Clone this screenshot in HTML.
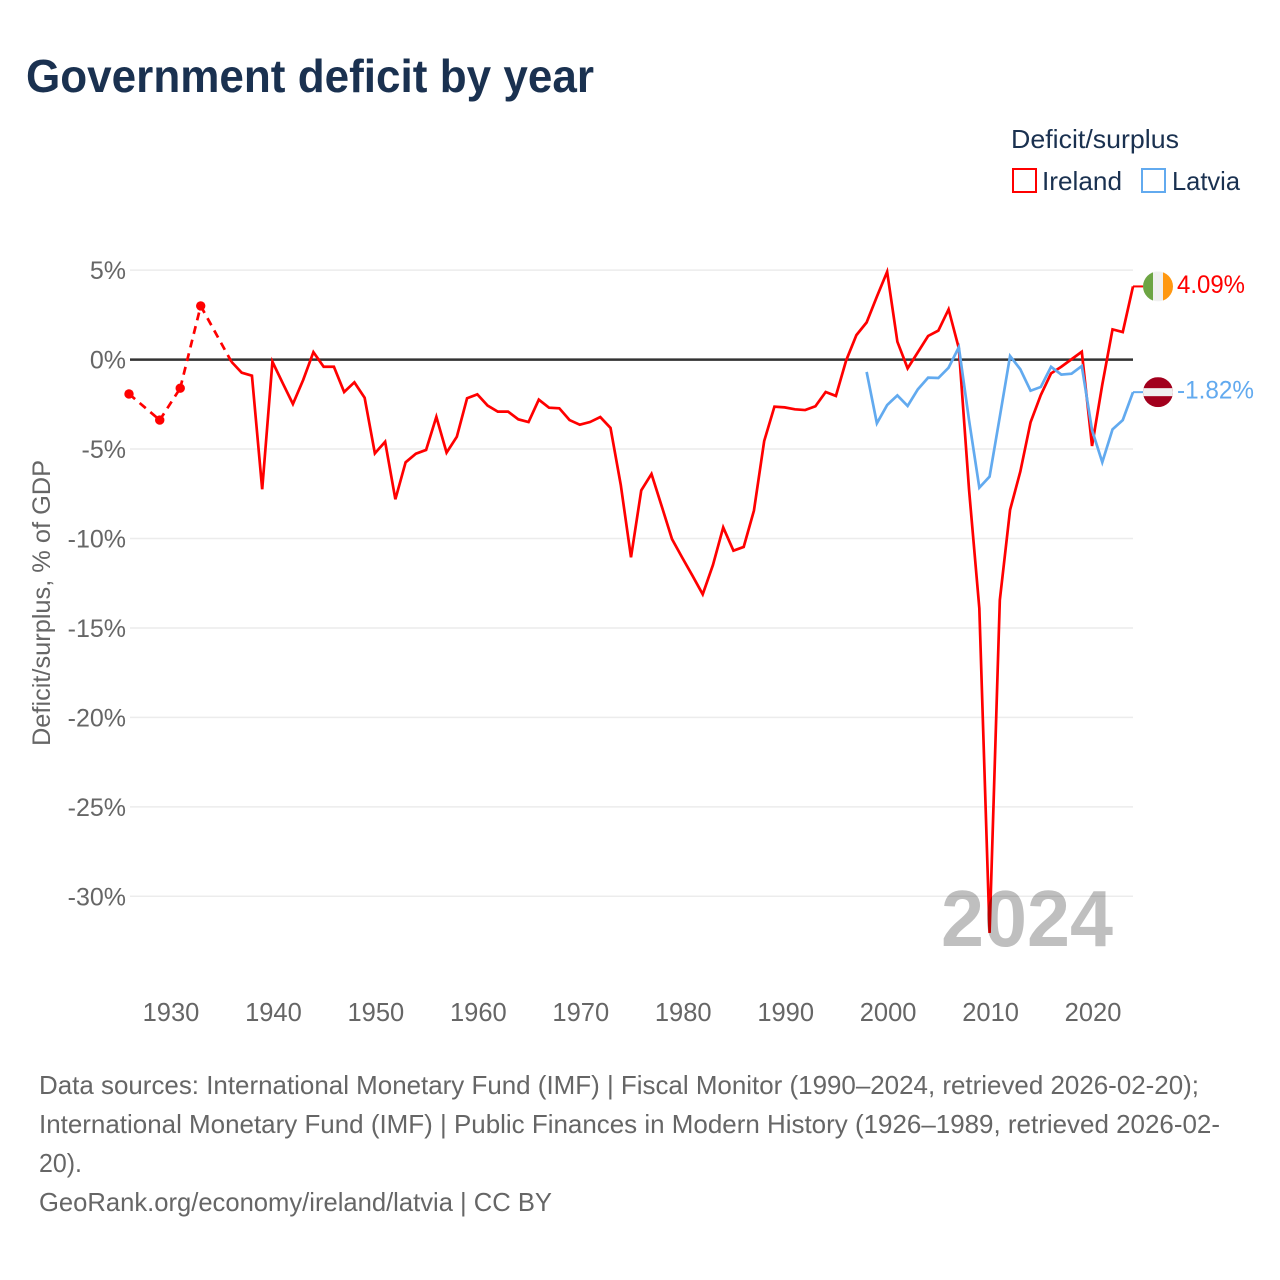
<!DOCTYPE html>
<html lang="en">
<head>
<meta charset="utf-8">
<title>Government deficit by year</title>
<style>
  html, body { margin: 0; padding: 0; background: #fff; }
  svg { display: block; font-family: "Liberation Sans", sans-serif; }
</style>
</head>
<body>
<svg id="chart" xmlns="http://www.w3.org/2000/svg" width="1280" height="1280" viewBox="0 0 1280 1280">
  <rect x="0" y="0" width="1280" height="1280" fill="#fff"/>
  <text x="26" y="92" font-size="46" font-weight="700" fill="#1a3150" textLength="568" lengthAdjust="spacingAndGlyphs">Government deficit by year</text>

  <g>
    <text x="1011" y="148" font-size="26" fill="#1a3150" textLength="168" lengthAdjust="spacingAndGlyphs">Deficit/surplus</text>
    <g>
      <rect x="1013" y="169" width="23" height="23" fill="#fff" stroke="#ff0000" stroke-width="2"/>
      <text x="1042" y="190" font-size="26" fill="#1a3150" textLength="80" lengthAdjust="spacingAndGlyphs">Ireland</text>
    </g>
    <g>
      <rect x="1142" y="169" width="23" height="23" fill="#fff" stroke="#62aaef" stroke-width="2"/>
      <text x="1172" y="190" font-size="26" fill="#1a3150" textLength="68" lengthAdjust="spacingAndGlyphs">Latvia</text>
    </g>
  </g>

  <text transform="translate(50,603) rotate(-90)" text-anchor="middle" font-size="25" fill="#666" textLength="286" lengthAdjust="spacingAndGlyphs">Deficit/surplus, % of GDP</text>

  <g id="grid"></g>
  <g id="y-ticks"></g>
  <g id="x-ticks"></g>
  <g id="series"></g>
  <g id="end-labels"></g>

  <clipPath id="flag-clip-ireland"><circle id="clip-ie" cx="1158" cy="286" r="15"/></clipPath>
  <clipPath id="flag-clip-latvia"><circle id="clip-lv" cx="1158" cy="392" r="15"/></clipPath>

  <text x="941" y="946" font-size="80" font-weight="700" fill="#000" fill-opacity="0.25" textLength="172" lengthAdjust="spacingAndGlyphs">2024</text>

  <g font-size="26" fill="#666">
    <text x="39" y="1094" textLength="1160" lengthAdjust="spacingAndGlyphs">Data sources: International Monetary Fund (IMF) | Fiscal Monitor (1990–2024, retrieved 2026-02-20);</text>
    <text x="39" y="1133" textLength="1181" lengthAdjust="spacingAndGlyphs">International Monetary Fund (IMF) | Public Finances in Modern History (1926–1989, retrieved 2026-02-</text>
    <text x="39" y="1172" textLength="43" lengthAdjust="spacingAndGlyphs">20).</text>
    <text x="39" y="1211" textLength="513" lengthAdjust="spacingAndGlyphs">GeoRank.org/economy/ireland/latvia | CC BY</text>
  </g>
</svg>

<script>
const yTicks = [5, 0, -5, -10, -15, -20, -25, -30];
const xTicks = [1930, 1940, 1950, 1960, 1970, 1980, 1990, 2000, 2010, 2020];

const irelandYears = [1926, 1929, 1931, 1933,
  1936, 1937, 1938, 1939, 1940, 1941, 1942, 1943, 1944, 1945, 1946, 1947, 1948, 1949,
  1950, 1951, 1952, 1953, 1954, 1955, 1956, 1957, 1958, 1959,
  1960, 1961, 1962, 1963, 1964, 1965, 1966, 1967, 1968, 1969,
  1970, 1971, 1972, 1973, 1974, 1975, 1976, 1977, 1978, 1979,
  1980, 1981, 1982, 1983, 1984, 1985, 1986, 1987, 1988, 1989,
  1990, 1991, 1992, 1993, 1994, 1995, 1996, 1997, 1998, 1999,
  2000, 2001, 2002, 2003, 2004, 2005, 2006, 2007, 2008, 2009,
  2010, 2011, 2012, 2013, 2014, 2015, 2016, 2017, 2018, 2019,
  2020, 2021, 2022, 2023, 2024];
const irelandValues = [-1.92, -3.38, -1.6, 3.0,
  -0.12, -0.73, -0.9, -7.25, -0.12, -1.31, -2.48, -1.14, 0.42, -0.4, -0.4, -1.81, -1.27, -2.13,
  -5.24, -4.59, -7.81, -5.74, -5.26, -5.05, -3.2, -5.2, -4.31, -2.16,
  -1.94, -2.57, -2.91, -2.91, -3.34, -3.49, -2.24, -2.69, -2.72, -3.38,
  -3.64, -3.49, -3.21, -3.82, -7.0, -11.05, -7.31, -6.39, -8.2, -10.03,
  -11.07, -12.08, -13.12, -11.48, -9.38, -10.68, -10.47, -8.44, -4.55, -2.63,
  -2.67, -2.78, -2.82, -2.61, -1.81, -2.03, -0.05, 1.37, 2.08, 3.52,
  4.91, 1.0, -0.49, 0.41, 1.32, 1.62, 2.81, 0.63, -7.3, -13.9,
  -32.05, -13.44, -8.4, -6.26, -3.5, -1.98, -0.77, -0.4, 0.02, 0.44,
  -4.83, -1.4, 1.69, 1.54, 4.09];

const latviaYears = [1998, 1999, 2000, 2001, 2002, 2003, 2004, 2005, 2006, 2007, 2008, 2009,
  2010, 2011, 2012, 2013, 2014, 2015, 2016, 2017, 2018, 2019, 2020, 2021, 2022, 2023, 2024];
const latviaValues = [-0.69, -3.56, -2.54, -2.0, -2.59, -1.66, -1.01, -1.03, -0.45, 0.69, -3.4, -7.16,
  -6.54, -3.19, 0.2, -0.54, -1.74, -1.53, -0.4, -0.84, -0.79, -0.36, -3.94, -5.74, -3.9, -3.38, -1.82];

const SVG_NS = 'http://www.w3.org/2000/svg';
const plotLeft = 130;
const plotRight = 1133;
const RED = '#ff0000';
const BLUE = '#62aaef';

function xScale(year) { return 129 + (year - 1926) * 10.245; }
function yScale(value) { return 359.6 - value * 17.89; }

function make(tag, attrs, parent) {
  const el = document.createElementNS(SVG_NS, tag);
  for (const k in attrs) el.setAttribute(k, attrs[k]);
  parent.appendChild(el);
  return el;
}

const grid = document.getElementById('grid');
const yTickGroup = document.getElementById('y-ticks');
const xTickGroup = document.getElementById('x-ticks');
const seriesGroup = document.getElementById('series');
const endGroup = document.getElementById('end-labels');

yTicks.filter(v => v !== 0).forEach(v => {
  const line = make('line', { x1: plotLeft, x2: plotRight, y1: yScale(v), y2: yScale(v), stroke: '#ececec', 'stroke-width': 1.5 }, grid);
  
  
});
const zeroLine = make('line', { x1: plotLeft, x2: plotRight, y1: yScale(0), y2: yScale(0), stroke: '#333', 'stroke-width': 2.5 }, grid);



yTicks.forEach(v => {
  const t = make('text', { x: 126, y: yScale(v) + 9, 'text-anchor': 'end', 'font-size': 25, fill: '#666' }, yTickGroup);
  
  
  t.textContent = v + '%';
});

xTicks.forEach(yr => {
  const t = make('text', { x: xScale(yr) + 1, y: 1021, 'text-anchor': 'middle', 'font-size': 25.5, fill: '#666' }, xTickGroup);
  
  
  t.textContent = yr;
});

function drawSeries(name, years, values, color) {
  const g = make('g', { fill: 'none', stroke: color, 'stroke-width': 2.7, 'stroke-linejoin': 'miter' }, seriesGroup);
  
  
  let run = [];
  const flush = () => {
    if (run.length > 1) {
      const p = make('polyline', { points: run.join(' ') }, g);
      
      
    }
    run = [];
  };
  years.forEach((yr, i) => {
    const pt = xScale(yr).toFixed(2) + ',' + yScale(values[i]).toFixed(2);
    if (i > 0 && yr - years[i - 1] > 1) {
      flush();
      const d = make('line', {
        x1: xScale(years[i - 1]), y1: yScale(values[i - 1]),
        x2: xScale(yr), y2: yScale(values[i]),
        'stroke-dasharray': '8 6'
      }, g);
      
      
    }
    run.push(pt);
  });
  flush();
  years.forEach((yr, i) => {
    const prevGap = i === 0 || yr - years[i - 1] > 1;
    const nextGap = i === years.length - 1 || years[i + 1] - yr > 1;
    if (prevGap && nextGap) {
      const c = make('circle', { cx: xScale(yr), cy: yScale(values[i]), r: 4.7, fill: color, stroke: 'none' }, g);
      
      
    }
  });
}

function drawEnd(name, values, years, color, labelWidth) {
  const last = values[values.length - 1];
  const y = yScale(last);
  const conn = make('line', { x1: xScale(years[years.length - 1]), x2: 1143, y1: y, y2: y, stroke: color, 'stroke-width': 2 }, endGroup);
  
  
  const t = make('text', { x: 1177, y: y + 6.5, 'font-size': 25, fill: color, textLength: labelWidth, lengthAdjust: 'spacingAndGlyphs' }, endGroup);
  
  
  t.textContent = last.toFixed(2) + '%';
  return y;
}

function flagBand(group, clipId, x, y, w, h, fill) {
  const r = make('rect', { x: x, y: y, width: w, height: h, fill: fill, 'clip-path': 'url(#' + clipId + ')' }, group);
  
  
}

drawSeries('ireland', irelandYears, irelandValues, RED);
drawSeries('latvia', latviaYears, latviaValues, BLUE);

const ieY = drawEnd('ireland', irelandValues, irelandYears, RED, 68);
const lvY = drawEnd('latvia', latviaValues, latviaYears, BLUE, 77);

document.getElementById('clip-ie').setAttribute('cy', ieY);
document.getElementById('clip-lv').setAttribute('cy', lvY);

const ieFlag = make('g', {}, endGroup);


flagBand(ieFlag, 'flag-clip-ireland', 1143, ieY - 15, 10, 30, '#6da544');
flagBand(ieFlag, 'flag-clip-ireland', 1153, ieY - 15, 10, 30, '#f0f0f0');
flagBand(ieFlag, 'flag-clip-ireland', 1163, ieY - 15, 10, 30, '#ff9811');

const lvFlag = make('g', {}, endGroup);


flagBand(lvFlag, 'flag-clip-latvia', 1143, lvY - 15, 30, 30, '#a2001d');
flagBand(lvFlag, 'flag-clip-latvia', 1143, lvY - 4, 30, 8, '#f0f0f0');
</script>
</body>
</html>
